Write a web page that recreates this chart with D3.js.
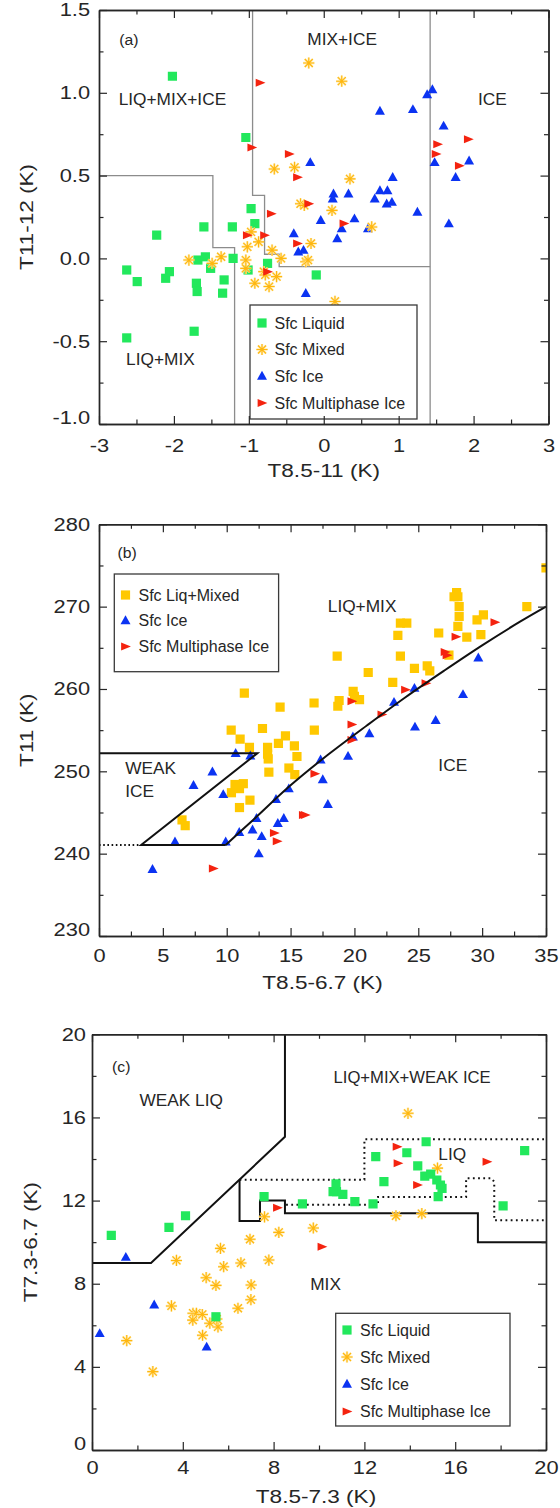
<!DOCTYPE html>
<html>
<head>
<meta charset="utf-8">
<script src="https://cdn.jsdelivr.net/npm/d3@7"></script>
<style>
  body { margin: 0; background: #fff; }
  svg { display: block; }
</style>
</head>
<body>
<svg id="fig" width="560" height="1508"></svg>
<script>
// ---------------- Panel (a): T11-12 vs T8.5-11 ----------------
const aLiquid = [[-2.02,1.10],[-1.04,0.73],[-0.97,0.30],[-0.92,0.21],[-1.60,0.19],[-1.22,0.19],[-2.23,0.14],
  [-2.63,-0.07],[-2.49,-0.14],[-2.11,-0.12],[-2.06,-0.08],[-1.68,-0.01],[-1.58,0.01],[-1.51,-0.06],
  [-1.70,-0.15],[-1.69,-0.20],[-1.33,-0.13],[-1.35,-0.21],[-1.21,0.0],[-1.01,-0.07],[-0.75,-0.03],
  [-0.10,-0.10],[-2.63,-0.48],[-1.73,-0.44]];
const aMixed = [[-0.20,1.18],[0.24,1.07],[-0.66,0.54],[-0.39,0.55],[0.35,0.48],[-0.31,0.33],[-0.26,0.32],
  [0.11,0.29],[0.64,0.19],[-0.97,0.16],[-0.87,0.10],[-1.02,0.07],[-0.69,0.05],[-0.57,0.0],[-0.17,0.09],
  [-0.24,-0.02],[-0.21,-0.01],[-1.80,-0.01],[-1.49,-0.03],[-1.37,0.01],[-1.04,-0.01],[-1.04,-0.06],
  [-0.92,-0.15],[-0.80,-0.08],[-0.78,-0.10],[-0.73,-0.17],[-0.63,-0.11],[0.15,-0.26]];
const aIce = [[1.45,1.02],[1.38,0.99],[0.75,0.89],[1.19,0.90],[1.60,0.80],[-0.18,0.58],[1.48,0.58],[1.94,0.59],
  [1.76,0.49],[0.92,0.49],[0.13,0.39],[0.12,0.36],[0.33,0.39],[0.75,0.41],[0.85,0.41],[0.68,0.36],[0.84,0.33],
  [0.91,0.34],[1.25,0.28],[1.67,0.21],[-0.04,0.23],[0.41,0.24],[0.24,0.18],[0.18,0.12],[0.59,0.18],
  [-0.40,0.15],[-0.34,0.04],[-0.27,0.05],[-0.24,-0.21]];
const aMulti = [[-0.85,1.06],[-0.96,0.67],[-0.46,0.63],[-0.35,0.49],[-0.20,0.33],[-0.70,0.27],[0.27,0.21],
  [-1.02,0.14],[-0.79,0.14],[-0.35,0.09],[-0.75,-0.08],[1.52,0.69],[1.50,0.63],[1.93,0.72],[1.81,0.56]];
// region boundaries
const aBound1 = [[-3,0.5],[-1.48,0.5],[-1.48,0.065],[-1.19,0.065],[-1.19,-1.0]];
const aBound2 = [[-0.95,1.5],[-0.95,0.38],[-0.79,0.38],[-0.79,0.025],[-0.595,0.025],[-0.595,-0.05],[1.42,-0.05]];
const aBound3 = [[1.42,1.5],[1.42,-1.0]];
const aXTicks = [-3,-2,-1,0,1,2,3];
const aYTicks = [-1.0,-0.5,0.0,0.5,1.0,1.5];

// ---------------- Panel (b): T11 vs T8.5-6.7 ----------------
const bLiqMix = [[6.5,244.1],[6.75,243.4],[10.35,255.0],[11.05,253.9],[11.78,252.9],[12.8,255.2],[13.2,252.9],
  [13.2,252.1],[13.25,251.5],[14.05,253.4],[14.6,254.3],[15.3,253.1],[15.5,251.8],[14.87,250.4],[15.33,249.6],
  [13.3,249.9],[10.65,248.4],[11.3,248.5],[10.37,247.4],[11.0,247.9],[11.0,245.6],[11.82,246.5],[16.86,255.0],
  [11.38,259.5],[14.18,257.8],[16.84,258.3],[18.65,264.0],[18.7,257.9],[18.8,258.6],[19.9,259.7],[20.0,259.1],
  [20.4,258.7],[21.08,262.0],[23.0,260.8],[23.4,266.5],[23.6,268.0],[24.1,268.0],[23.6,264.0],[24.7,262.5],
  [25.7,262.8],[25.9,262.2],[26.6,266.8],[27.4,264.1],[27.8,271.2],[28.0,271.7],[28.1,271.2],[28.2,270.0],
  [28.2,268.8],[28.1,267.6],[28.8,266.3],[29.6,268.4],[30.1,269.0],[29.9,266.6],[33.5,270.0],[35.0,274.7]];
const bIce = [[4.19,238.1],[5.95,241.45],[7.4,248.3],[8.88,249.95],[9.73,247.2],[9.92,241.45],[10.7,252.2],
  [11.85,251.9],[10.98,242.6],[12.02,242.9],[12.33,244.3],[12.74,242.1],[12.51,240.0],[13.86,246.6],[14.0,243.7],
  [14.47,244.3],[14.86,247.9],[17.35,251.4],[17.52,249.0],[17.92,246.0],[19.5,251.85],[19.88,254.2],
  [21.17,254.6],[23.1,258.4],[24.7,260.1],[24.74,255.4],[26.36,256.2],[28.5,259.35],[29.7,263.8]];
const bMulti = [[8.95,238.2],[13.73,242.5],[13.95,241.5],[16.0,244.7],[16.15,244.7],[16.9,249.7],[19.8,253.8],
  [19.8,255.7],[19.8,258.5],[22.15,256.9],[24.0,259.9],[25.6,260.7],[27.1,264.5],[27.25,264.1],[27.95,266.35],
  [31.0,268.1]];
const bWeakIce = [[0,252.2],[12.4,252.2],[3.3,241.05],[9.92,241.05]];
const bIceEdge = [[9.92,241.05],[12,244],[15,248.3],[18,252.1],[21,255.6],[24,259.0],[27,262.2],[30,265.3],[33,268.2],[35,270]];
const bDotted = [[0,241.05],[3.3,241.05]];
const bXTicks = [0,5,10,15,20,25,30,35];
const bYTicks = [230,240,250,260,270,280];

// ---------------- Panel (c): T7.3-6.7 vs T8.5-7.3 ----------------
const cLiquid = [[0.85,10.33],[3.39,10.71],[4.12,11.27],[7.58,12.19],[9.27,11.84],[10.75,12.8],[10.77,12.43],
  [11.05,12.3],[10.62,12.43],[11.58,11.95],[12.38,11.84],[12.5,14.11],[12.86,12.91],[13.87,14.3],[14.35,13.67],
  [14.72,14.83],[14.66,13.18],[14.92,13.27],[15.19,12.99],[15.35,12.75],[15.42,12.59],[15.25,12.19],
  [18.11,11.75],[19.06,14.4],[5.46,6.41]];
const cMixed = [[13.92,16.2],[15.22,13.56],[13.39,11.27],[14.53,11.37],[7.6,11.22],[8.23,10.47],[9.75,10.68],
  [6.96,10.14],[5.66,9.7],[3.72,9.12],[7.79,9.14],[6.56,9.0],[5.8,8.82],[5.03,8.29],[5.46,7.92],[7.01,7.94],
  [7.0,7.23],[6.43,6.82],[3.5,6.93],[4.45,6.58],[4.6,6.58],[4.86,6.52],[4.44,6.25],[5.19,6.1],[5.55,5.92],
  [4.87,5.52],[1.53,5.26],[2.68,3.77],[5.5,6.3]];
const cIce = [[1.49,9.28],[2.74,6.99],[0.34,5.61],[5.05,4.96]];
const cMulti = [[13.44,14.59],[13.48,13.79],[14.34,12.75],[17.4,13.87],[8.17,11.65],[10.13,9.78]];
const cWeakLiq = [[0,9.0],[2.6,9.0],[8.5,15.07],[8.5,20]];
const cMixEdge = [[6.5,13.0],[6.5,11.02],[7.4,11.02],[7.4,12.0],[8.5,12.0],[8.5,11.39],[17.0,11.39],[17.0,10.0],[20,10.0]];
const cLiqUpper = [[6.5,13.0],[12.0,13.0],[12.0,14.95],[20,14.95]];
const cLiqLower = [[8.55,11.8],[12.6,11.8],[12.6,12.17],[16.48,12.17],[16.48,13.07],[17.6,13.07],[17.72,12.9],[17.72,11.05],[20,11.05]];
const cXTicks = [0,4,8,12,16,20];
const cYTicks = [0,4,8,12,16,20];

// ---------------- shared styling ----------------
const FONT = '"Liberation Sans", Arial, Helvetica, sans-serif';
const INK = "#262626";
const COL = { liquid: "#22e85c", mixed: "#ffb70f", mixedHalo: "#ffe7a0", ice: "#0b33f2", multi: "#f4230f", liqmix: "#ffc800" };

const svg = d3.select("#fig");

// marker paths, centred on the origin
const SHAPES = {
  square: "M-4.6,-4.6H4.6V4.6H-4.6Z",
  tri: "M0,-5.2L5,3.7H-5Z",
  right: "M-4.4,-4L5.4,0L-4.4,4Z",
  star: "M-5.6,0H5.6M0,-5.6V5.6M-4,-4L4,4M-4,4L4,-4"
};

function marker(g, kind, color) {
  if (kind === "star") {
    g.append("path").attr("d", SHAPES.star).attr("stroke", COL.mixedHalo).attr("stroke-width", 2.4)
      .attr("stroke-opacity", 0.85).attr("fill", "none");
    g.append("path").attr("d", SHAPES.star).attr("stroke", color).attr("stroke-width", 1.1).attr("fill", "none");
  } else {
    g.append("path").attr("d", SHAPES[kind]).attr("fill", color);
  }
}

function series(g, data, x, y, kind, color) {
  g.append("g").selectAll("g").data(data).join("g")
    .attr("transform", d => `translate(${x(d[0])},${y(d[1])})`)
    .each(function() { marker(d3.select(this), kind, color); });
}

function textAt(g, px, py, str, size, k, anchor) {
  g.append("text")
    .attr("transform", `translate(${px},${py}) scale(${k},1)`)
    .attr("text-anchor", anchor || "middle")
    .attr("dy", "0.35em")
    .attr("font-family", FONT).attr("font-size", size).attr("fill", INK)
    .text(str);
}

function frame(g, x, y, o) {
  const [xl, xr] = x.range();
  const [yb, yt] = y.range();
  const TK = 1.18, TS = 18.5;
  const major = 8, minor = 4.5;
  const style = sel => {
    sel.selectAll(".domain").attr("stroke", INK).attr("stroke-width", 1.4);
    sel.selectAll(".tick line").attr("stroke", INK).attr("stroke-width", 1.2);
  };
  // minor ticks on all four sides
  const none = () => "";
  [["bottom", yb], ["top", yt]].forEach(([side, pos]) => {
    const ax = side === "bottom" ? d3.axisBottom(x) : d3.axisTop(x);
    g.append("g").attr("transform", `translate(0,${pos})`)
      .call(ax.tickValues(o.xMinor).tickSizeInner(-minor).tickSizeOuter(0).tickFormat(none)).call(style);
  });
  [["left", xl], ["right", xr]].forEach(([side, pos]) => {
    const ax = side === "left" ? d3.axisLeft(y) : d3.axisRight(y);
    g.append("g").attr("transform", `translate(${pos},0)`)
      .call(ax.tickValues(o.yMinor).tickSizeInner(-minor).tickSizeOuter(0).tickFormat(none)).call(style);
  });
  // major ticks, labels on bottom and left
  g.append("g").attr("transform", `translate(0,${yt})`)
    .call(d3.axisTop(x).tickValues(o.xTicks).tickSizeInner(-major).tickSizeOuter(0).tickFormat(none)).call(style);
  g.append("g").attr("transform", `translate(${xr},0)`)
    .call(d3.axisRight(y).tickValues(o.yTicks).tickSizeInner(-major).tickSizeOuter(0).tickFormat(none)).call(style);
  const bx = g.append("g").attr("transform", `translate(0,${yb})`)
    .call(d3.axisBottom(x).tickValues(o.xTicks).tickSizeInner(-major).tickSizeOuter(0).tickPadding(o.xPad).tickFormat(o.xFmt))
    .call(style);
  bx.selectAll("text").attr("font-family", FONT).attr("font-size", TS).attr("fill", INK)
    .attr("transform", `scale(${TK},1)`);
  const ly = g.append("g").attr("transform", `translate(${xl},0)`)
    .call(d3.axisLeft(y).tickValues(o.yTicks).tickSizeInner(-major).tickSizeOuter(0).tickPadding(o.yPad).tickFormat(o.yFmt))
    .call(style);
  ly.selectAll("text").attr("font-family", FONT).attr("font-size", TS).attr("fill", INK)
    .attr("x", -o.yPad / TK).attr("transform", `scale(${TK},1)`)
    .filter(d => d === o.yTicks[0]).attr("y", -6);
  // axis titles
  textAt(g, (xl + xr) / 2 + o.xTitleDx, o.xTitleY, o.xTitle, 18.5, 1.22);
  g.append("text")
    .attr("transform", `translate(${o.yTitleX},${(yb + yt) / 2}) rotate(-90) scale(1.22,1)`)
    .attr("text-anchor", "middle").attr("dy", "0.35em")
    .attr("font-family", FONT).attr("font-size", 18.5).attr("fill", INK)
    .text(o.yTitle);
}

function legend(g, box, rows) {
  const [x0, y0, x1, y1] = box;
  g.append("rect").attr("x", x0).attr("y", y0).attr("width", x1 - x0).attr("height", y1 - y0)
    .attr("fill", "#fff").attr("stroke", "#3a3a3a").attr("stroke-width", 1.3);
  rows.forEach(r => {
    const m = g.append("g").attr("transform", `translate(${r.sx},${r.y})`);
    marker(m, r.kind, r.color);
    g.append("text").attr("x", r.tx).attr("y", r.y).attr("dy", "0.35em")
      .attr("font-family", FONT).attr("font-size", 16).attr("fill", INK).text(r.label);
  });
}

const lineGen = (x, y) => d3.line().x(d => x(d[0])).y(d => y(d[1]));
const fmt1 = d => d.toFixed(1);
const fmt0 = d => d.toFixed(0);

// ================= Panel (a) =================
{
  const x = d3.scaleLinear().domain([-3, 3]).range([99, 548.5]);
  const y = d3.scaleLinear().domain([-1, 1.5]).range([424, 10]);
  const g = svg.append("g");
  g.append("clipPath").attr("id", "clipA").append("rect")
    .attr("x", 99).attr("y", 10).attr("width", 449.5).attr("height", 414);
  const L = lineGen(x, y);
  const bounds = g.append("g").attr("fill", "none").attr("stroke", "#8c8c8c").attr("stroke-width", 1.3);
  [aBound1, aBound2, aBound3].forEach(b => bounds.append("path").attr("d", L(b)));

  const pts = g.append("g").attr("clip-path", "url(#clipA)");
  series(pts, aLiquid, x, y, "square", COL.liquid);
  series(pts, aIce, x, y, "tri", COL.ice);
  series(pts, aMixed, x, y, "star", COL.mixed);
  series(pts, aMulti, x, y, "right", COL.multi);

  textAt(g, x(-2.6), y(1.32), "(a)", 15, 1.05);
  textAt(g, x(0.245), y(1.32), "MIX+ICE", 16, 1.08);
  textAt(g, x(-2.02), y(0.96), "LIQ+MIX+ICE", 16, 1.08);
  textAt(g, x(2.25), y(0.96), "ICE", 16, 1.08);
  textAt(g, x(-2.18), y(-0.61), "LIQ+MIX", 16, 1.08);

  legend(g, [250, 305, 417, 419], [
    { kind: "square", color: COL.liquid, label: "Sfc Liquid", sx: 262, tx: 274.5, y: 323 },
    { kind: "star", color: COL.mixed, label: "Sfc Mixed", sx: 262, tx: 274.5, y: 349.5 },
    { kind: "tri", color: COL.ice, label: "Sfc Ice", sx: 262, tx: 274.5, y: 376 },
    { kind: "right", color: COL.multi, label: "Sfc Multiphase Ice", sx: 262, tx: 274.5, y: 403 }
  ]);

  frame(g, x, y, {
    xTicks: aXTicks, yTicks: aYTicks,
    xMinor: d3.range(-2.5, 3, 1), yMinor: d3.range(-0.75, 1.5, 0.5),
    xFmt: fmt0, yFmt: fmt1, xPad: 15, yPad: 9,
    xTitle: "T8.5-11 (K)", xTitleY: 471, xTitleDx: 0,
    yTitle: "T11-12 (K)", yTitleX: 27
  });
}

// ================= Panel (b) =================
{
  const x = d3.scaleLinear().domain([0, 35]).range([99, 546]);
  const y = d3.scaleLinear().domain([230, 280]).range([936, 524.3]);
  const g = svg.append("g");
  g.append("clipPath").attr("id", "clipB").append("rect")
    .attr("x", 99).attr("y", 524.3).attr("width", 447).attr("height", 411.7);
  const L = lineGen(x, y);
  const pts = g.append("g").attr("clip-path", "url(#clipB)");
  series(pts, bLiqMix, x, y, "square", COL.liqmix);
  series(pts, bIce, x, y, "tri", COL.ice);
  series(pts, bMulti, x, y, "right", COL.multi);

  const lines = g.append("g").attr("fill", "none").attr("stroke", "#111").attr("stroke-width", 2);
  lines.append("path").attr("d", L(bWeakIce));
  lines.append("path").attr("d", L.curve(d3.curveCatmullRom)(bIceEdge));
  L.curve(d3.curveLinear);
  lines.append("path").attr("d", L(bDotted)).attr("stroke-dasharray", "1.6,2.6");

  textAt(g, x(2.2), y(276.55), "(b)", 15, 1.05);
  textAt(g, x(20.6), y(270), "LIQ+MIX", 16, 1.08);
  textAt(g, x(2.05), y(250.4), "WEAK", 16, 1.08, "start");
  textAt(g, x(2.05), y(247.6), "ICE", 16, 1.08, "start");
  textAt(g, x(27.7), y(250.7), "ICE", 16, 1.08);

  legend(g, [114.3, 574, 278.6, 671.7], [
    { kind: "square", color: COL.liqmix, label: "Sfc Liq+Mixed", sx: 125.5, tx: 138.5, y: 595 },
    { kind: "tri", color: COL.ice, label: "Sfc Ice", sx: 125.5, tx: 138.5, y: 620.5 },
    { kind: "right", color: COL.multi, label: "Sfc Multiphase Ice", sx: 125.5, tx: 138.5, y: 646.5 }
  ]);

  frame(g, x, y, {
    xTicks: bXTicks, yTicks: bYTicks,
    xMinor: d3.range(2.5, 35, 5), yMinor: d3.range(235, 280, 10),
    xFmt: fmt0, yFmt: fmt0, xPad: 13, yPad: 9,
    xTitle: "T8.5-6.7 (K)", xTitleY: 983, xTitleDx: 0,
    yTitle: "T11 (K)", yTitleX: 27
  });
}

// ================= Panel (c) =================
{
  const x = d3.scaleLinear().domain([0, 20]).range([92, 546]);
  const y = d3.scaleLinear().domain([0, 20]).range([1450, 1034.3]);
  const g = svg.append("g");
  g.append("clipPath").attr("id", "clipC").append("rect")
    .attr("x", 92).attr("y", 1034.3).attr("width", 454).attr("height", 415.7);
  const L = lineGen(x, y);
  const lines = g.append("g").attr("fill", "none").attr("stroke", "#111").attr("stroke-width", 2);
  lines.append("path").attr("d", L(cWeakLiq));
  lines.append("path").attr("d", L(cMixEdge));
  lines.append("path").attr("d", L(cLiqUpper)).attr("stroke-dasharray", "1.8,3.4");
  lines.append("path").attr("d", L(cLiqLower)).attr("stroke-dasharray", "1.8,3.4");

  const pts = g.append("g").attr("clip-path", "url(#clipC)");
  series(pts, cMixed, x, y, "star", COL.mixed);
  series(pts, cLiquid, x, y, "square", COL.liquid);
  series(pts, cIce, x, y, "tri", COL.ice);
  series(pts, cMulti, x, y, "right", COL.multi);

  textAt(g, x(1.29), y(18.44), "(c)", 15, 1.05);
  textAt(g, x(3.93), y(16.84), "WEAK LIQ", 16, 1.08);
  textAt(g, x(14.1), y(17.91), "LIQ+MIX+WEAK ICE", 16, 1.04);
  textAt(g, x(15.87), y(14.23), "LIQ", 16, 1.08);
  textAt(g, x(10.29), y(7.99), "MIX", 16, 1.08);

  legend(g, [335.7, 1313.3, 510, 1426], [
    { kind: "square", color: COL.liquid, label: "Sfc Liquid", sx: 347, tx: 360, y: 1330 },
    { kind: "star", color: COL.mixed, label: "Sfc Mixed", sx: 347, tx: 360, y: 1357 },
    { kind: "tri", color: COL.ice, label: "Sfc Ice", sx: 347, tx: 360, y: 1384 },
    { kind: "right", color: COL.multi, label: "Sfc Multiphase Ice", sx: 347, tx: 360, y: 1411.5 }
  ]);

  frame(g, x, y, {
    xTicks: cXTicks, yTicks: cYTicks,
    xMinor: d3.range(2, 20, 4), yMinor: d3.range(2, 20, 4),
    xFmt: fmt0, yFmt: fmt0, xPad: 11, yPad: 6,
    xTitle: "T8.5-7.3 (K)", xTitleY: 1497, xTitleDx: -3,
    yTitle: "T7.3-6.7 (K)", yTitleX: 31
  });
}
</script>
</body>
</html>
